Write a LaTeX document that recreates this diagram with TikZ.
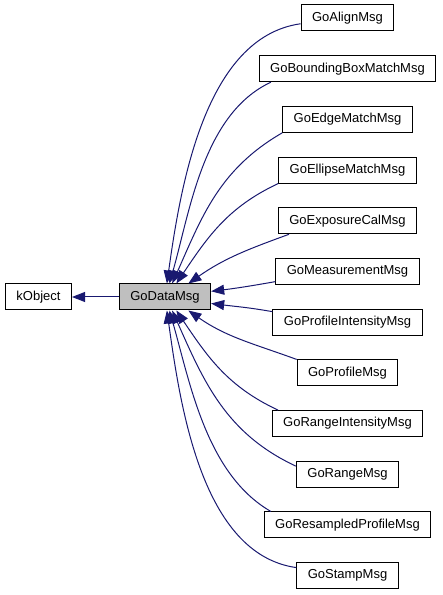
\documentclass[tikz,border=0pt]{standalone}
\usepackage{fontspec}
\setmainfont{Liberation Sans}
\usetikzlibrary{arrows.meta, positioning}
\definecolor{edgeblue}{RGB}{25,25,112}
\definecolor{basegray}{RGB}{191,191,191}
\tikzset{
  cls/.style={draw=black, line width=1pt, fill=white, inner xsep=11pt, inner ysep=0pt,
    minimum height=26pt, font=\fontsize{13}{15}\selectfont},
  inh/.style={edgeblue, line width=1pt, -{Triangle[length=13pt, width=10pt]}},
}
\begin{document}
\begin{tikzpicture}[x=1pt, y=1pt]
  \useasboundingbox (0,0) rectangle (443,595);
  % base classes
  \node[cls] (kobj) at (38.5,298) {kObject};
  \node[cls, fill=basegray] (data) at (165,298) {GoDataMsg};
  % derived messages
  \node[cls] (align) at (347.5,577) {GoAlignMsg};
  \node[cls] (bbox) at (347.5,526.3) {GoBoundingBoxMatchMsg};
  \node[cls] (edge) at (347.5,475.6) {GoEdgeMatchMsg};
  \node[cls] (ellipse) at (347.5,424.9) {GoEllipseMatchMsg};
  \node[cls] (expo) at (347.5,374.2) {GoExposureCalMsg};
  \node[cls] (meas) at (347.5,323.5) {GoMeasurementMsg};
  \node[cls] (profint) at (347.5,272.8) {GoProfileIntensityMsg};
  \node[cls] (prof) at (347.5,222.1) {GoProfileMsg};
  \node[cls] (rangeint) at (347.5,171.4) {GoRangeIntensityMsg};
  \node[cls] (range) at (347.5,120.7) {GoRangeMsg};
  \node[cls] (resamp) at (347.5,70) {GoResampledProfileMsg};
  \node[cls] (stamp) at (347.5,19.3) {GoStampMsg};
  % inheritance
  \draw[inh] (data) -- (kobj);
  \draw[inh] (align.187) to[out=188, in=82, looseness=0.85] (data.82);
  \draw[inh] (bbox.190) to[out=205, in=74, looseness=0.85] (data.72);
  \draw[inh] (edge.south west) to[out=210, in=66] (data.62);
  \draw[inh] (ellipse.191) to[out=205, in=56] (data.50);
  \draw[inh] (expo.193) to[out=200, in=35] (data.30);
  \draw[inh] (meas.188) to[out=190, in=7] (data.7);
  \draw[inh] (profint.172) to[out=170, in=-7] (data.-8);
  \draw[inh] (prof.north west) to[out=160, in=-35] (data.-30);
  \draw[inh] (rangeint.169) to[out=155, in=-56] (data.-50);
  \draw[inh] (range.171) to[out=155, in=-66] (data.-62);
  \draw[inh] (resamp.170) to[out=150, in=-74, looseness=0.85] (data.-72);
  \draw[inh] (stamp.171) to[out=172, in=-82, looseness=0.85] (data.-82);
\end{tikzpicture}
\end{document}
